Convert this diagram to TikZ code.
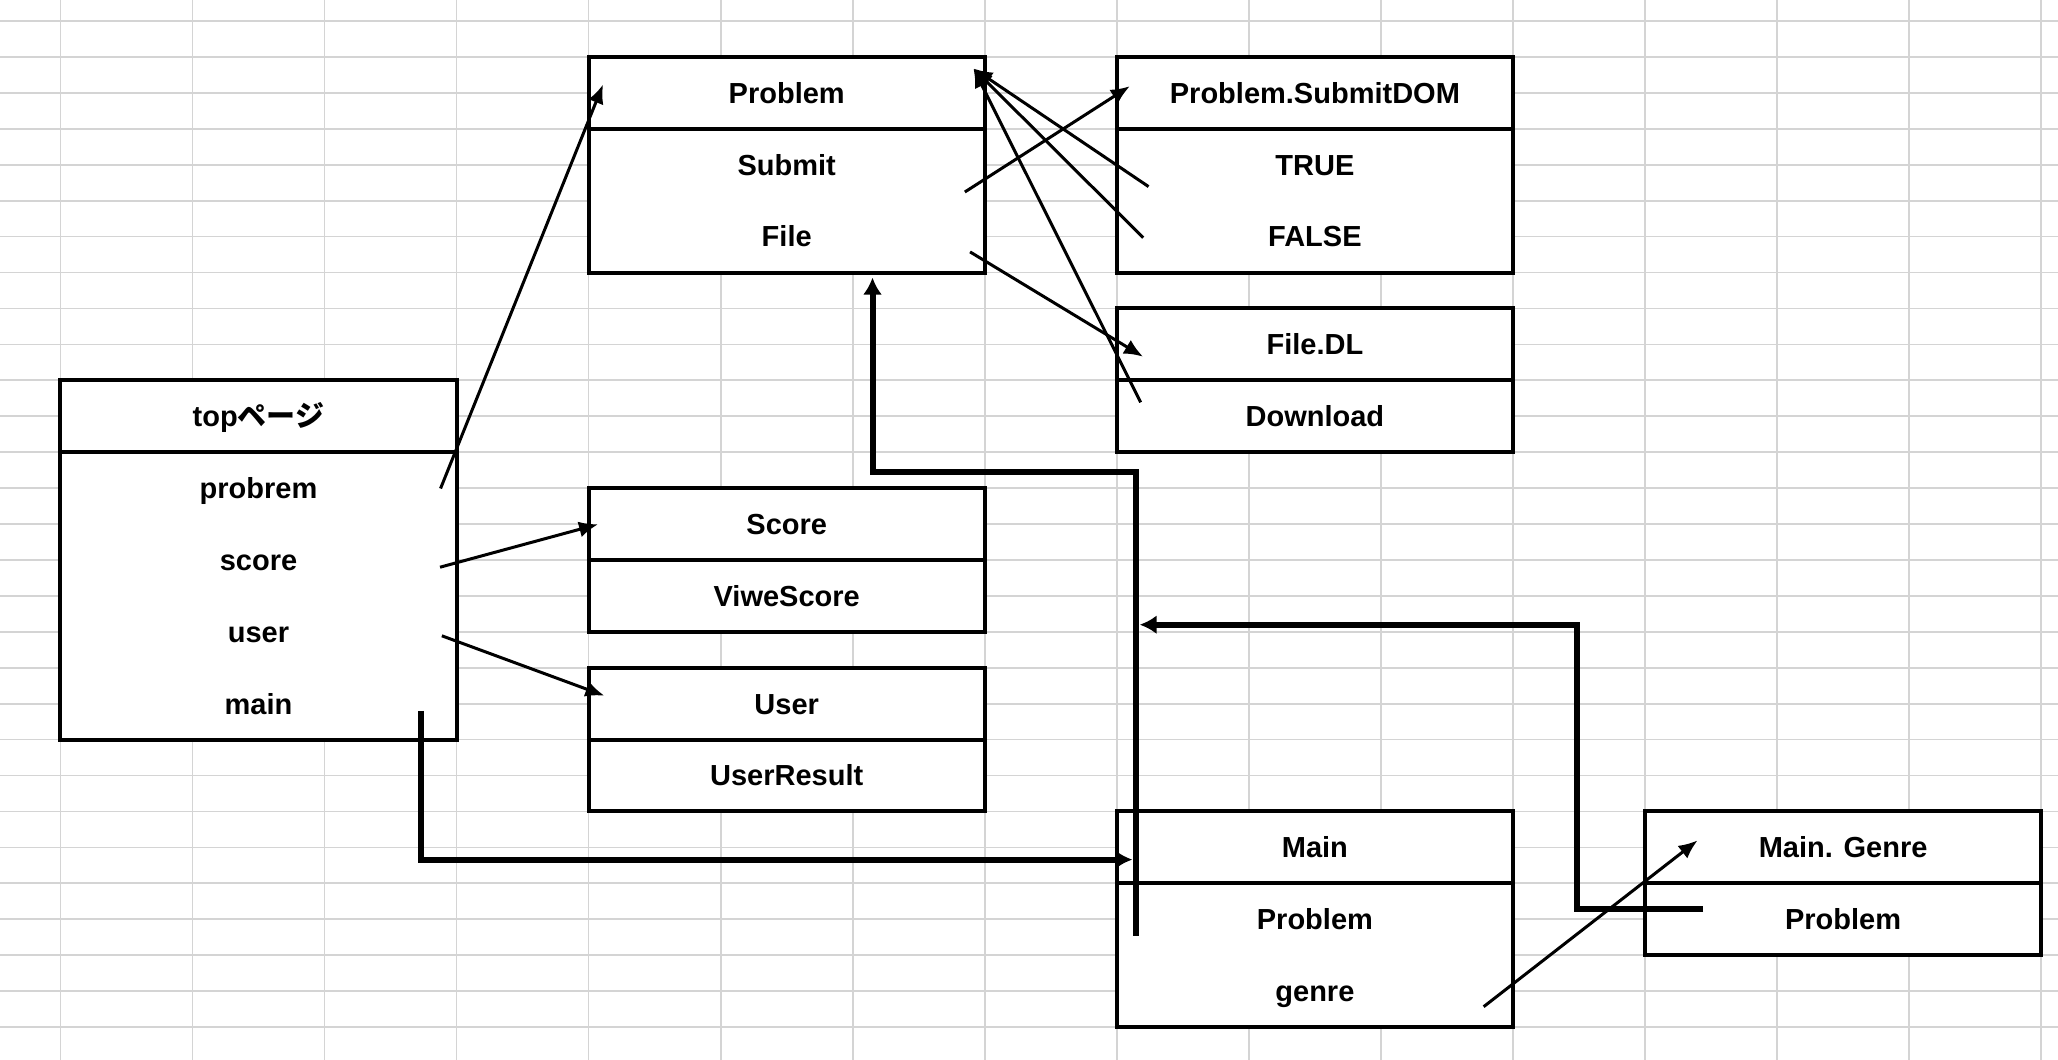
\documentclass[tikz,border=0pt]{standalone}
\usepackage{fontspec}
\setmainfont{Liberation Sans}
\newfontfamily\jpfont{Noto Sans CJK JP}
\usetikzlibrary{arrows.meta,calc}
\definecolor{gridgray}{RGB}{212,212,212}
\begin{document}
\begin{tikzpicture}[x=0.5pt,y=-0.5pt,
  gridline/.style={draw=gridgray,line width=0.85pt},
  lbl/.style={inner sep=0pt,text height=10.3pt,text depth=0pt,font=\fontsize{14.5}{17}\selectfont\bfseries},
  hdr/.style={lbl,draw=black,line width=2pt,fill=white,minimum width=198.05pt,minimum height=35.93pt},
  body2/.style={draw=black,line width=2pt,fill=white,minimum width=198.05pt,minimum height=71.86pt,inner sep=0pt},
  body1/.style={body2,minimum height=35.93pt},
  body4/.style={body2,minimum height=143.72pt},
  rowtxt/.style={lbl,minimum width=198.05pt,minimum height=35.93pt},
  thinarr/.style={draw=black,line width=1.5pt,-{Latex[length=9.5pt,width=8pt]}},
  thickarr/.style={draw=black,line width=3pt,-{Latex[length=8.5pt,width=9.5pt]}}
]
\useasboundingbox (0,0) rectangle (2058,1060);
\fill[white] (0,0) rectangle (2058,1060);
% spreadsheet grid
\foreach \i in {0,...,15} \draw[gridline] ({60.4+132.05*\i},0) -- ({60.4+132.05*\i},1060);
\foreach \j in {0,...,28} \draw[gridline] (0,{21+35.93*\j}) -- (2058,{21+35.93*\j});

% Problem
\node[hdr] (prob-h) at (786.7,92.9) {Problem};
\node[body2] (prob-b) at (786.7,200.7) {};
\node[rowtxt] (prob-submit) at (786.7,164.7) {Submit};
\node[rowtxt] (prob-file) at (786.7,236.6) {File};

% Problem.SubmitDOM
\node[hdr] (dom-h) at (1314.9,92.9) {Problem.SubmitDOM};
\node[body2] (dom-b) at (1314.9,200.7) {};
\node[rowtxt] (dom-true) at (1314.9,164.7) {TRUE};
\node[rowtxt] (dom-false) at (1314.9,236.6) {FALSE};

% File.DL
\node[hdr] (dl-h) at (1314.9,344.4) {File.DL};
\node[body1] (dl-b) at (1314.9,416.2) {};
\node[rowtxt] (dl-download) at (1314.9,416.2) {Download};

% top page
\node[hdr] (top-h) at (258.5,416.2) {top{\jpfont ページ}};
\node[body4] (top-b) at (258.5,595.9) {};
\node[rowtxt] (top-probrem) at (258.5,488.1) {probrem};
\node[rowtxt] (top-score) at (258.5,560.0) {score};
\node[rowtxt] (top-user) at (258.5,631.8) {user};
\node[rowtxt] (top-main) at (258.5,703.7) {main};

% Score
\node[hdr] (score-h) at (786.7,524.0) {Score};
\node[body1] (score-b) at (786.7,595.9) {};
\node[rowtxt] (score-view) at (786.7,595.9) {ViweScore};

% User
\node[hdr] (user-h) at (786.7,703.7) {User};
\node[body1] (user-b) at (786.7,775.5) {};
\node[rowtxt] (user-result) at (786.7,775.5) {UserResult};

% Main
\node[hdr] (main-h) at (1314.9,847.4) {Main};
\node[body2] (main-b) at (1314.9,955.2) {};
\node[rowtxt] (main-problem) at (1314.9,919.3) {Problem};
\node[rowtxt] (main-genre) at (1314.9,991.1) {genre};

% Main. Genre
\node[hdr] (genre-h) at (1843.1,847.4) {Main. Genre};
\node[body1] (genre-b) at (1843.1,919.3) {};
\node[rowtxt] (genre-problem) at (1843.1,919.3) {Problem};

% connectors
\draw[thinarr] ($(top-probrem.east)+(-16.4,0.4)$) -- ($(prob-h.west)+(16.4,-8.4)$);
\draw[thinarr] ($(top-score.east)+(-16.9,7.2)$) -- ($(score-h.west)+(11.4,0.3)$);
\draw[thinarr] ($(top-user.east)+(-15.1,4)$) -- ($(user-h.west)+(17.8,-8)$);
\draw[thickarr] ($(top-main.east)+(-36.1,7.2)$) |- ($(main-h.west)+(17.5,12.2)$);

\coordinate (jbend) at (1000,472.3);
\draw[thickarr] ($(main-problem.west)+(19.6,16.4)$) |- (jbend) -| ($(prob-b.south)+(85.8,3)$);

\coordinate (gbend) at (1576.6,624.7);
\coordinate (jtip) at (1139.7,624.7);
\draw[thickarr] ($(genre-problem.west)+(58.4,-10.7)$) -| (gbend) -- (jtip);

\draw[thinarr] ($(main-genre.east)+(-29.7,15.6)$) -- ($(genre-h.west)+(54.5,-7)$);
\draw[thinarr] ($(prob-submit.east)+(-20.3,27.3)$) -- ($(dom-h.west)+(15,-6.7)$);
\draw[thinarr] ($(prob-file.east)+(-15.1,15.3)$) -- ($(dl-h.west)+(28.2,12.3)$);

\coordinate (ptip) at ($(prob-h.east)+(-13.3,-24.4)$);
\draw[thinarr] ($(dom-true.west)+(32.1,21.9)$) -- (ptip);
\draw[thinarr] ($(dom-false.west)+(26.8,1.1)$) -- (ptip);
\draw[thinarr] ($(dl-download.west)+(24.2,-13.9)$) -- (ptip);
\end{tikzpicture}
\end{document}
